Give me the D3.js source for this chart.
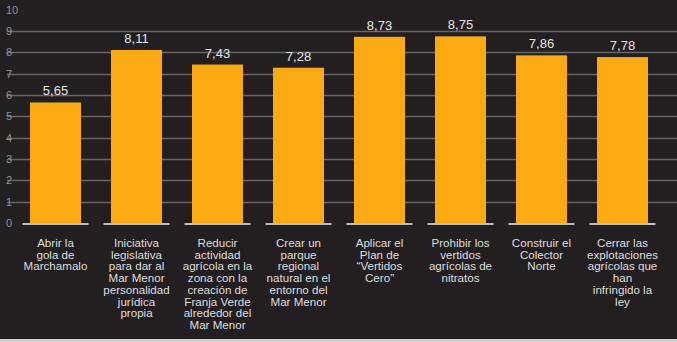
<!DOCTYPE html>
<html>
<head>
<meta charset="utf-8">
<script src="https://cdn.jsdelivr.net/npm/d3@7"></script>
<style>
  html, body { margin: 0; padding: 0; background: #231f20; }
  svg { display: block; }
</style>
</head>
<body>
<svg id="chart" width="677" height="342"></svg>
<script>
// Valoración media de cada medida (escala 0–10)
const categories = [
  ["Abrir la", "gola de", "Marchamalo"],
  ["Iniciativa", "legislativa", "para dar al", "Mar Menor", "personalidad", "jurídica", "propia"],
  ["Reducir", "actividad", "agrícola en la", "zona con la", "creación de", "Franja Verde", "alrededor del", "Mar Menor"],
  ["Crear un", "parque", "regional", "natural en el", "entorno del", "Mar Menor"],
  ["Aplicar el", "Plan de", "“Vertidos", "Cero”"],
  ["Prohibir los", "vertidos", "agrícolas de", "nitratos"],
  ["Construir el", "Colector", "Norte"],
  ["Cerrar las", "explotaciones", "agrícolas que", "han", "infringido la", "ley"]
];
const values = [5.65, 8.11, 7.43, 7.28, 8.73, 8.75, 7.86, 7.78];
const valueLabels = ["5,65", "8,11", "7,43", "7,28", "8,73", "8,75", "7,86", "7,78"];
const yTicks = [0, 1, 2, 3, 4, 5, 6, 7, 8, 9, 10];

const W = 677, H = 342;
const svg = d3.select("#chart");
const font = "'Liberation Sans', Arial, sans-serif";

svg.append("rect").attr("width", W).attr("height", H).attr("fill", "#231f20");

const idx = d3.range(values.length);
const x = d3.scaleBand().domain(idx).range([15, 663]).paddingInner(0.37).paddingOuter(0.185);
const y = d3.scaleLinear().domain([0, 10]).range([223, 9.7]);

// horizontal gridlines (none at 0 and 10)
svg.append("g").selectAll("line")
  .data(yTicks.filter(t => t > 0 && t < 10))
  .join("line")
  .attr("x1", 7).attr("x2", W)
  .attr("y1", d => Math.round(y(d)) + 0.5).attr("y2", d => Math.round(y(d)) + 0.5)
  .attr("stroke", "#686565").attr("stroke-width", 1.4);

// tick labels
svg.append("g").selectAll("text")
  .data(yTicks)
  .join("text")
  .attr("x", 6).attr("y", d => y(d))
  .attr("dy", "0.36em")
  .attr("fill", "#959292")
  .attr("font-family", font).attr("font-size", 11)
  .text(d => d);

// bars
svg.append("g").selectAll("rect")
  .data(idx)
  .join("rect")
  .attr("x", i => x(i)).attr("width", x.bandwidth())
  .attr("y", i => y(values[i])).attr("height", i => y(0) - y(values[i]))
  .attr("fill", "#fbaa14");

// baseline segments under each bar
svg.append("g").selectAll("line")
  .data(idx)
  .join("line")
  .attr("x1", i => x(i) - 7.5).attr("x2", i => x(i) + x.bandwidth() + 7.5)
  .attr("y1", y(0) + 1).attr("y2", y(0) + 1)
  .attr("stroke", "#bdbcbc").attr("stroke-width", 2);

// value labels
svg.append("g").selectAll("text")
  .data(idx)
  .join("text")
  .attr("x", i => x(i) + x.bandwidth() / 2)
  .attr("y", i => y(values[i]) - 7)
  .attr("text-anchor", "middle")
  .attr("fill", "#e4e4e4")
  .attr("font-family", font).attr("font-size", 13)
  .text(i => valueLabels[i]);

// category labels
const cat = svg.append("g").selectAll("text")
  .data(idx)
  .join("text")
  .attr("text-anchor", "middle")
  .attr("fill", "#dedede")
  .attr("font-family", font).attr("font-size", 11.6);
cat.each(function(i) {
  const t = d3.select(this);
  categories[i].forEach((line, k) => {
    t.append("tspan")
      .attr("x", x(i) + x.bandwidth() / 2)
      .attr("y", 247 + k * 11.7)
      .text(line);
  });
});

// bottom strip
svg.append("rect").attr("x", 0).attr("y", 339).attr("width", W).attr("height", 3).attr("fill", "#cfcfcf");
</script>
</body>
</html>
